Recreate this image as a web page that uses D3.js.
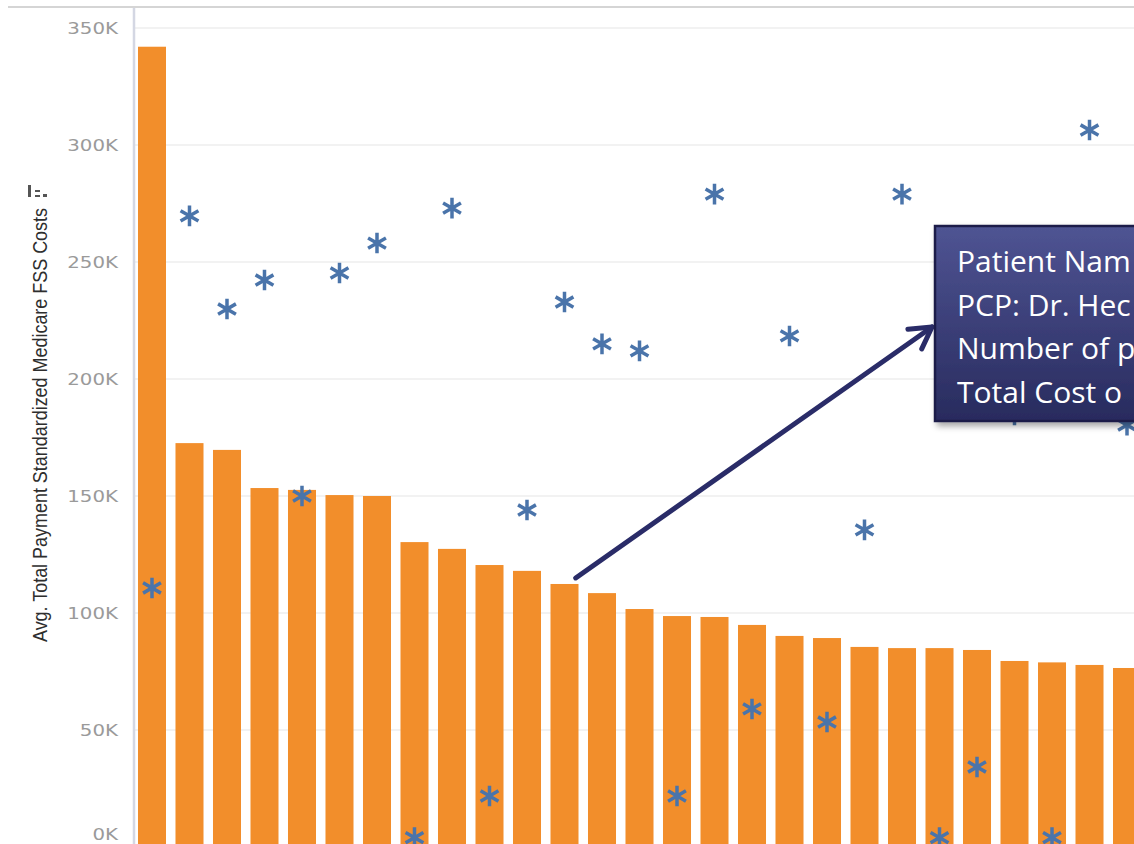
<!DOCTYPE html>
<html>
<head>
<meta charset="utf-8">
<script src="https://cdn.jsdelivr.net/npm/d3@7"></script>
<style>
  body { margin: 0; background: #fff; }
  svg { display: block; }
</style>
</head>
<body>
<script>
// one bar per patient, sorted by cost
var patients = ["P01", "P02", "P03", "P04", "P05", "P06", "P07", "P08", "P09", "P10",
    "P11", "P12", "P13", "P14", "P15", "P16", "P17", "P18", "P19", "P20",
    "P21", "P22", "P23", "P24", "P25", "P26", "P27"];

var avgCost = [342000, 172600, 169700, 153400, 152600, 150400, 150000, 130300, 127400, 120500,
    118000, 112400, 108500, 101700, 98700, 98300, 94900, 90200, 89300, 85500,
    85000, 85000, 84200, 79500, 78900, 77800, 76500];

// asterisk marks
var markCost = [110700, 269700, 229900, 242300, 150000, 245300, 258100, 4000, 273000, 21800,
    144000, 232900, 215000, 212000, 21800, 279000, 59000, 218400, 53400, 135500,
    279000, 4000, 34200, 184600, 4000, 306400, 180300];

var yTicks = [0, 50000, 100000, 150000, 200000, 250000, 300000, 350000];

// the callout runs off the right edge of the view
var calloutLines = ["Patient Nam", "PCP: Dr. Hec", "Number of p", "Total Cost o"];

var width = 1134
var height = 844

const svg = d3.select("body").append("svg")
    .attr("width", width)
    .attr("height", height);

const defs = svg.append("defs");

var grad = defs.append("linearGradient")
    .attr("id", "boxGrad")
    .attr("x1", 0).attr("y1", 0).attr("x2", 0).attr("y2", 1);
grad.append("stop").attr("offset", "0%").attr("stop-color", "#4f5493");
grad.append("stop").attr("offset", "100%").attr("stop-color", "#282b5e");

defs.append("filter")
    .attr("id", "shadow")
    .attr("x", -0.1).attr("y", -0.1).attr("width", 1.3).attr("height", 1.3)
    .append("feDropShadow")
    .attr("dx", 3).attr("dy", 4)
    .attr("stdDeviation", 3)
    .attr("flood-color", "#000")
    .attr("flood-opacity", 0.35);

defs.append("marker")
    .attr("id", "head")
    .attr("viewBox", "-25 -16 28 32")
    .attr("refX", 0)
    .attr("refY", 0)
    .attr("markerWidth", 28)
    .attr("markerHeight", 32)
    .attr("markerUnits", "userSpaceOnUse")
    .attr("orient", "auto")
    .append("path")
    .attr("d", "M-21,-12L0,0L-21,12")
    .attr("fill", "none")
    .attr("stroke", "#2a2c68")
    .attr("stroke-width", 5)
    .attr("stroke-linecap", "round")
    .attr("stroke-linejoin", "round");

var x = d3.scaleBand()
    .domain(patients)
    .range([133, 1146])
    .paddingInner(0.253)
    .paddingOuter(0.133);

var y = d3.scaleLinear()
    .domain([0, 350000])
    .range([847, 28]);

// frame line on top
svg.append("line")
    .attr("x1", 8).attr("x2", width)
    .attr("y1", 7).attr("y2", 7)
    .attr("stroke", "#d5d5d5")
    .attr("stroke-width", 2);

// gridlines
svg.append("g")
    .selectAll("line")
    .data(yTicks)
    .enter()
    .append("line")
    .attr("x1", 134).attr("x2", width)
    .attr("y1", d => y(d)).attr("y2", d => y(d))
    .attr("stroke", "#eeeeee")
    .attr("stroke-width", 1.5);

// y axis labels
const yAxis = svg.append("g")
    .attr("transform", "translate(118,0)")
    .call(d3.axisLeft(y).tickValues(yTicks).tickSize(0).tickPadding(0)
        .tickFormat(d => (d / 1000) + "K"));
yAxis.select(".domain").remove();
yAxis.selectAll("text")
    .attr("font-family", "DejaVu Sans, sans-serif")
    .attr("font-size", 15)
    .attr("fill", "#9a9a9a")
    .attr("transform", "scale(1.32,1)")
    .attr("dy", "0.36em")
    .filter(d => d === 0)
    .attr("dy", "-0.5em");

svg.append("line")
    .attr("x1", 134).attr("x2", 134)
    .attr("y1", 8).attr("y2", height)
    .attr("stroke", "#d4d7e3")
    .attr("stroke-width", 2.5);

// bars
svg.append("g")
    .selectAll("rect")
    .data(patients)
    .enter()
    .append("rect")
    .attr("x", d => x(d))
    .attr("width", x.bandwidth())
    .attr("y", (d, i) => y(avgCost[i]))
    .attr("height", (d, i) => y(0) - y(avgCost[i]))
    .attr("fill", "#f28e2b");

// asterisks
svg.append("g")
    .selectAll("path")
    .data(patients)
    .enter()
    .append("path")
    .attr("d", d3.symbol(d3.symbolAsterisk, 300))
    .attr("transform", (d, i) => `translate(${x(d) + x.bandwidth() / 2},${y(markCost[i])})`)
    .attr("fill", "none")
    .attr("stroke", "#4a74aa")
    .attr("stroke-width", 3.5);

// y axis title
svg.append("text")
    .attr("transform", "translate(47,642) rotate(-90)")
    .attr("text-anchor", "start")
    .attr("font-family", "Liberation Sans Narrow, Arial Narrow, sans-serif")
    .attr("font-size", 20)
    .attr("fill", "#2e2e2e")
    .attr("textLength", 434)
    .attr("lengthAdjust", "spacingAndGlyphs")
    .text("Avg. Total Payment Standardized Medicare FSS Costs");

// little sort icon next to the title
var icon = svg.append("g").attr("fill", "#555");
icon.append("rect").attr("x", 28).attr("y", 185).attr("width", 3).attr("height", 12);
icon.append("rect").attr("x", 35).attr("y", 190).attr("width", 5).attr("height", 2);
icon.append("rect").attr("x", 35).attr("y", 195).attr("width", 5).attr("height", 2);
icon.append("rect").attr("x", 43).attr("y", 194).attr("width", 4).attr("height", 3);

// arrow from the 12th bar to the callout
svg.append("line")
    .attr("x1", x(patients[11]) + x.bandwidth() * 0.9)
    .attr("y1", y(avgCost[11]) - 6)
    .attr("x2", 932)
    .attr("y2", 327)
    .attr("stroke", "#2a2c68")
    .attr("stroke-width", 5)
    .attr("stroke-linecap", "round")
    .attr("marker-end", "url(#head)");

// callout box
const callout = svg.append("g");
callout.append("rect")
    .attr("x", 935)
    .attr("y", 226)
    .attr("width", 260)
    .attr("height", 195)
    .attr("fill", "url(#boxGrad)")
    .attr("stroke", "#1c1e4a")
    .attr("stroke-width", 2.5)
    .attr("filter", "url(#shadow)");

callout.selectAll("text")
    .data(calloutLines)
    .enter()
    .append("text")
    .attr("x", 957)
    .attr("y", (d, i) => 272 + i * 43.5)
    .attr("font-family", "Open Sans, sans-serif")
    .attr("font-size", 30)
    .attr("fill", "#fff")
    .text(d => d);
</script>
</body>
</html>
